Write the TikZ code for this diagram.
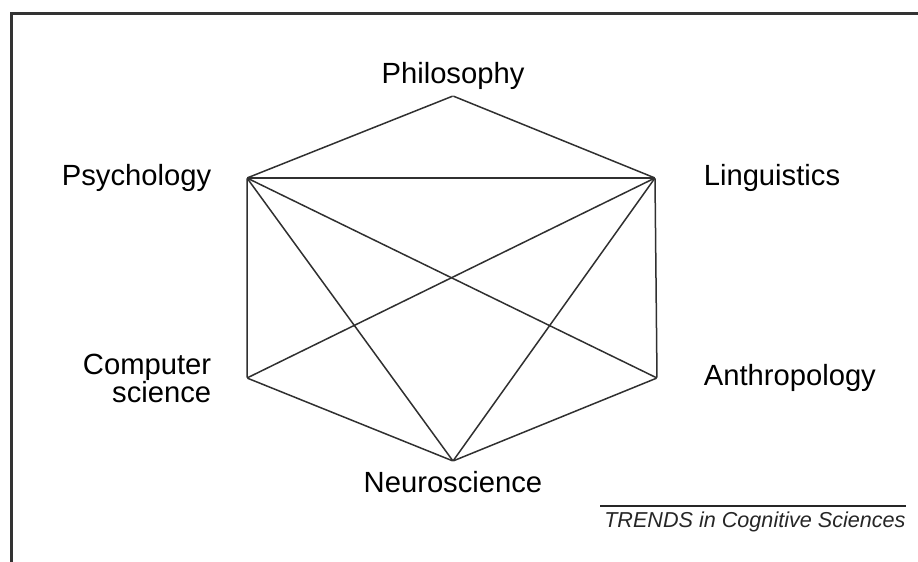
\documentclass[tikz,border=0pt]{standalone}
\usepackage{fontspec}
\setmainfont{Liberation Sans}
\usepackage{xcolor}
\usepackage{tikz}
\usetikzlibrary{positioning,calc}

\definecolor{edgegray}{HTML}{303030}
\tikzset{
  vertex/.style={inner sep=0pt,minimum size=0pt},
  field/.style={font=\fontsize{14.6}{14}\selectfont,text=black,inner sep=0pt,align=center},
  link/.style={draw=edgegray,line width=0.75pt},
  frameline/.style={draw=black!80,line width=1.5pt}
}

\begin{document}
\begin{tikzpicture}[x=0.5pt,y=-0.5pt]
  \useasboundingbox (0,0) rectangle (918,562);
  % frame
  \coordinate (ftr) at (918,13);
  \coordinate (ftl) at (11,13);
  \coordinate (fbl) at (11,562);
  \draw[frameline] (ftr) -- (ftl) -- (fbl);

  % corners of the hexagon
  \node[vertex] (phil)  at (453,96)  {};
  \node[vertex] (psych) at (247,178) {};
  \node[vertex] (ling)  at (655,178) {};
  \node[vertex] (comp)  at (247,378) {};
  \node[vertex] (anth)  at (657,378) {};
  \node[vertex] (neuro) at (453,461) {};

  % labels
  \node[field,above=3pt of phil]    (philtext)  {Philosophy};
  \node[field,left=17.5pt of psych]  (psychtext) {Psychology};
  \node[field,right=24pt of ling]   (lingtext)  {Linguistics};
  \node[field,align=right,left=17.5pt of comp] (comptext) {Computer\\science};
  \node[field,right=23pt of anth]   (anthtext)  {Anthropology};
  \node[field,below=5pt of neuro]   (neurotext) {Neuroscience};

  % links
  \draw[link] (phil) -- (psych) -- (comp) -- (neuro) -- (anth) -- (ling) -- (phil);
  \draw[link] (psych) -- (ling);
  \draw[link] (psych) -- (neuro);
  \draw[link] (psych) -- (anth);
  \draw[link] (ling) -- (comp);
  \draw[link] (ling) -- (neuro);

  % source line
  \coordinate (srcl) at (600,506);
  \coordinate (srcr) at (906,506);
  \draw[draw=black!85,line width=0.7pt] (srcl) -- (srcr);
  \node[font=\fontsize{10.8}{12}\selectfont\itshape,text=black!85,inner sep=0pt,anchor=north east]
    (source) at (906,511) {TRENDS in Cognitive Sciences};
\end{tikzpicture}
\end{document}
